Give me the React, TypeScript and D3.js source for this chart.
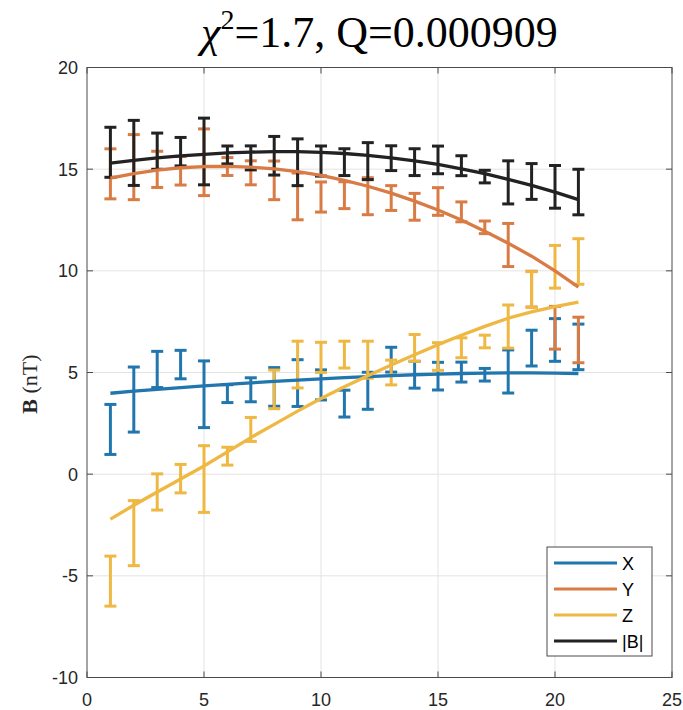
import React from "react";
import * as d3 from "d3";

// ---- data ----
const xs = [1, 2, 3, 4, 5, 6, 7, 8, 9, 10, 11, 12, 13, 14, 15, 16, 17, 18, 19, 20, 21];
const errs = [1.23, 1.6, 0.89, 0.7, 1.64, 0.44, 0.59, 0.95, 1.15, 0.74, 0.66, 0.91, 0.61, 0.66, 0.68, 0.49, 0.31, 1.06, 0.88, 1.05, 1.12];

const bxData = [2.2, 3.67, 5.15, 5.39, 3.93, 3.96, 4.15, 4.29, 4.48, 4.39, 3.47, 4.1, 5.63, 4.89, 4.82, 5.02, 4.89, 5.05, 6.2, 6.6, 6.26];
const byData = [14.77, 15.1, 14.99, 14.92, 15.34, 15.13, 14.82, 14.45, 13.66, 13.63, 13.72, 13.67, 13.58, 13.15, 13.41, 12.9, 12.14, 11.27, 9.1, 7.2, 6.6];
const bzData = [-5.26, -2.9, -0.875, -0.22, -0.24, 0.885, 2.2, 4.17, 5.39, 5.745, 5.88, 5.63, 5.0, 6.21, 5.785, 6.215, 6.525, 7.26, 9.08, 10.2, 10.46];
const bmData = [15.83, 15.8, 15.885, 15.86, 15.87, 15.7, 15.555, 15.66, 15.34, 15.4, 15.345, 15.395, 15.54, 15.345, 15.455, 15.17, 14.635, 14.35, 14.395, 14.13, 13.875];

const bxFit = [3.98, 4.08, 4.17, 4.26, 4.34, 4.42, 4.49, 4.56, 4.63, 4.69, 4.75, 4.8, 4.85, 4.89, 4.92, 4.95, 4.97, 4.98, 4.98, 4.97, 4.95];
const byFit = [14.56, 14.78, 14.95, 15.07, 15.13, 15.14, 15.1, 15.01, 14.88, 14.69, 14.45, 14.16, 13.82, 13.43, 12.99, 12.5, 11.95, 11.36, 10.72, 10.0, 9.2];
const bzFit = [-2.21, -1.53, -0.88, -0.24, 0.4, 1.1, 1.8, 2.45, 3.1, 3.72, 4.3, 4.84, 5.37, 5.87, 6.37, 6.83, 7.27, 7.67, 7.98, 8.24, 8.46];
const bmFit = [15.3, 15.43, 15.55, 15.65, 15.73, 15.8, 15.84, 15.86, 15.86, 15.83, 15.77, 15.68, 15.56, 15.41, 15.23, 15.02, 14.78, 14.5, 14.2, 13.87, 13.5];

const seriesNames = ["X", "Y", "Z", "|B|"];
const seriesColors = ["#2176AE", "#D97B45", "#EEB843", "#222222"];
const seriesData = [bxData, byData, bzData, bmData];
const seriesFits = [bxFit, byFit, bzFit, bmFit];

const xTicks = [0, 5, 10, 15, 20, 25];
const yTicks = [-10, -5, 0, 5, 10, 15, 20];

// ---- layout ----
const W = 683;
const H = 710;
const L = 87;
const R = 672;
const T = 67.5;
const B = 677.5;

export default function App() {
  const x = d3.scaleLinear().domain([0, 25]).range([L, R]);
  const y = d3.scaleLinear().domain([-10, 20]).range([B, T]);
  const line = d3
    .line<number>()
    .x((_, i) => x(xs[i]))
    .y((d) => y(d));

  const axisColor = "#4a4a4a";
  const textColor = "#262626";
  const cap = 6;

  return (
    <svg
      width={W}
      height={H}
      style={{ position: "absolute", left: 0, top: 0, background: "#fff" }}
    >
      <rect x={0} y={0} width={W} height={H} fill="#fff" />
      {/* grid */}
      {xTicks
        .filter((t) => t > 0 && t < 25)
        .map((t) => (
          <line key={"gx" + t} x1={x(t)} x2={x(t)} y1={T} y2={B} stroke="#e3e3e3" strokeWidth={1} />
        ))}
      {yTicks
        .filter((t) => t > -10 && t < 20)
        .map((t) => (
          <line key={"gy" + t} x1={L} x2={R} y1={y(t)} y2={y(t)} stroke="#e3e3e3" strokeWidth={1} />
        ))}

      {/* error bars */}
      {seriesData.map((arr, si) => (
        <g key={"eb" + si} stroke={seriesColors[si]} strokeWidth={3} fill="none">
          {arr.map((v, i) => {
            const cx = x(xs[i]);
            const y0 = y(v - errs[i]);
            const y1 = y(v + errs[i]);
            return (
              <g key={i}>
                <line x1={cx} x2={cx} y1={y0} y2={y1} />
                <line x1={cx - cap} x2={cx + cap} y1={y0} y2={y0} />
                <line x1={cx - cap} x2={cx + cap} y1={y1} y2={y1} />
              </g>
            );
          })}
        </g>
      ))}

      {/* fit lines */}
      {seriesFits.map((arr, si) => (
        <path
          key={"fit" + si}
          d={line(arr) || ""}
          fill="none"
          stroke={seriesColors[si]}
          strokeWidth={3.3}
          strokeLinejoin="round"
        />
      ))}

      {/* axes box */}
      <rect x={L} y={T} width={R - L} height={B - T} fill="none" stroke={axisColor} strokeWidth={1} />
      {xTicks.map((t) => (
        <g key={"xt" + t}>
          <line x1={x(t)} x2={x(t)} y1={B} y2={B - 6} stroke={axisColor} />
          <line x1={x(t)} x2={x(t)} y1={T} y2={T + 6} stroke={axisColor} />
          <text
            x={x(t)}
            y={B + 28}
            textAnchor="middle"
            fontFamily="Liberation Sans, Arial, sans-serif"
            fontSize={18}
            fill={textColor}
          >
            {t}
          </text>
        </g>
      ))}
      {yTicks.map((t) => (
        <g key={"yt" + t}>
          <line x1={L} x2={L + 6} y1={y(t)} y2={y(t)} stroke={axisColor} />
          <line x1={R} x2={R - 6} y1={y(t)} y2={y(t)} stroke={axisColor} />
          <text
            x={L - 9}
            y={y(t) + 6.5}
            textAnchor="end"
            fontFamily="Liberation Sans, Arial, sans-serif"
            fontSize={18}
            fill={textColor}
          >
            {t}
          </text>
        </g>
      ))}

      {/* title */}
      <text
        x={(L + R) / 2}
        y={47}
        textAnchor="middle"
        fontFamily="Liberation Serif, Times New Roman, serif"
        fontSize={44}
        fill="#000"
      >
        <tspan fontStyle="italic">χ</tspan>
        <tspan fontSize={28} dy={-18}>2</tspan>
        <tspan dy={18}>=1.7, Q=0.000909</tspan>
      </text>

      {/* y label */}
      <text
        transform={`translate(37, 384) rotate(-90)`}
        textAnchor="middle"
        fontFamily="Liberation Serif, Times New Roman, serif"
        fontSize={22}
        fill={textColor}
      >
        <tspan fontWeight="bold">B</tspan>
        <tspan> (nT)</tspan>
      </text>

      {/* legend */}
      <g>
        <rect x={547} y={547} width={105} height={109} fill="#fff" stroke={axisColor} strokeWidth={1} />
        {seriesNames.map((n, i) => {
          const ly = 563 + i * 26;
          return (
            <g key={"lg" + n}>
              <line x1={554} x2={617} y1={ly} y2={ly} stroke={seriesColors[i]} strokeWidth={3} />
              <text
                x={622}
                y={ly + 6.5}
                fontFamily="Liberation Sans, Arial, sans-serif"
                fontSize={18}
                fill="#000"
              >
                {n}
              </text>
            </g>
          );
        })}
      </g>
    </svg>
  );
}
